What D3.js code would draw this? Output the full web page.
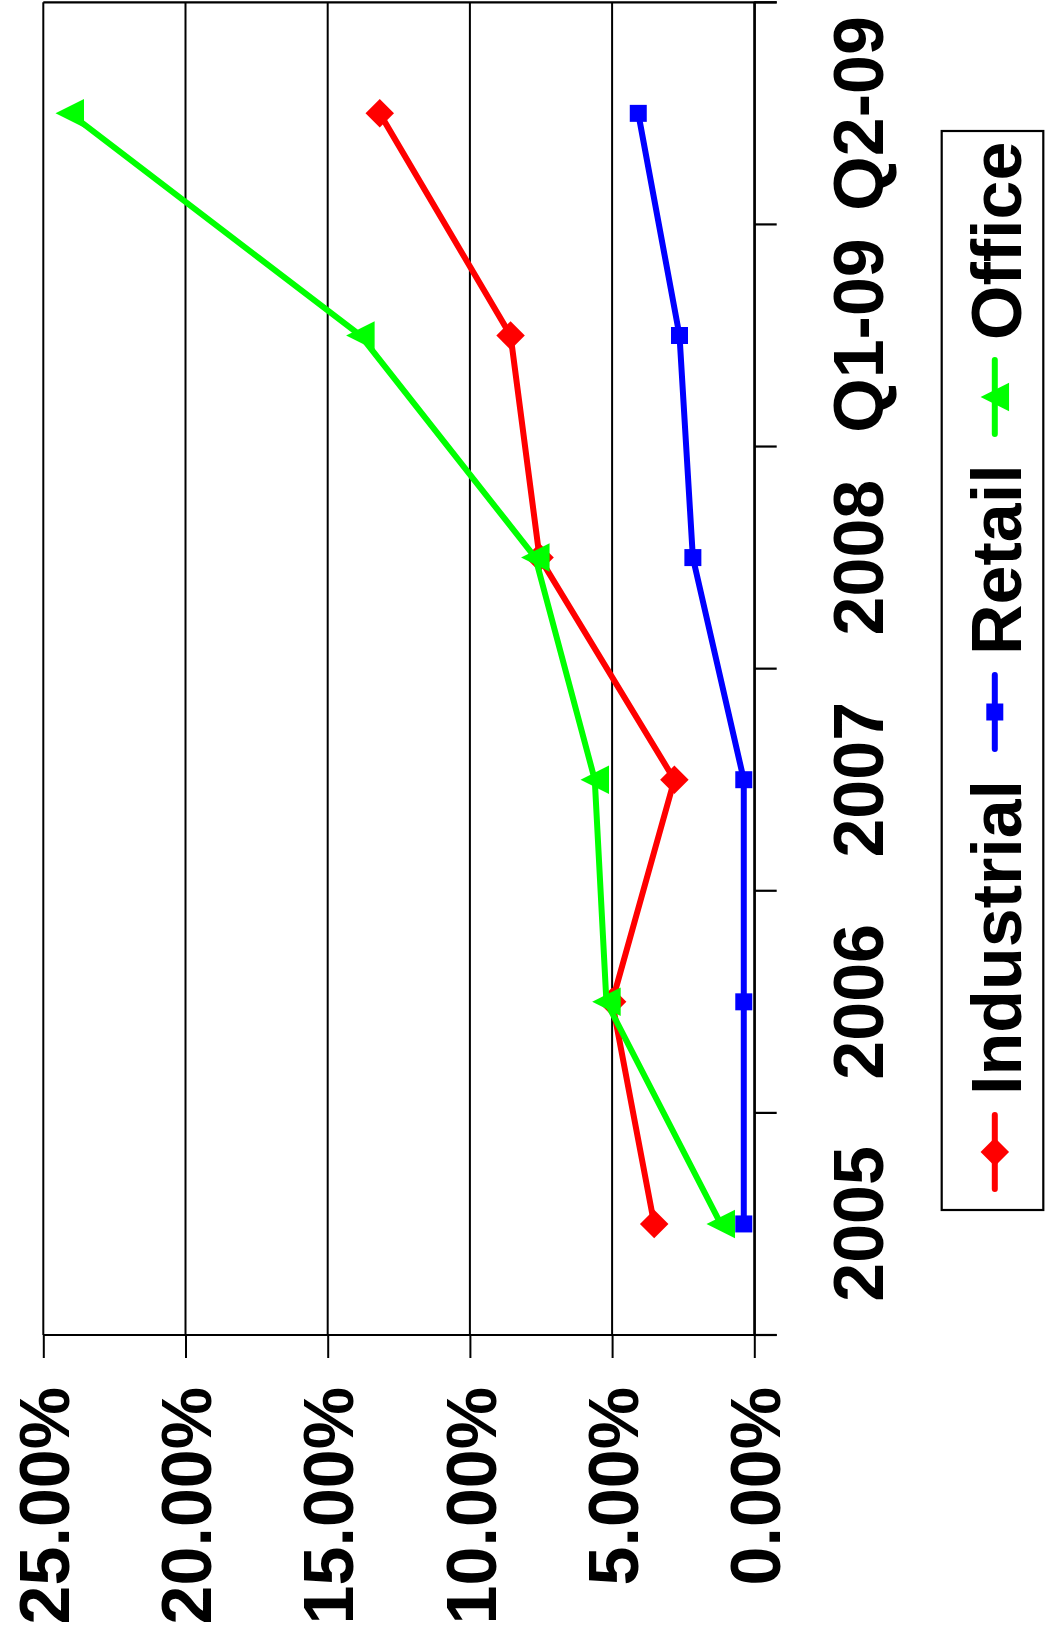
<!DOCTYPE html>
<html>
<head>
<meta charset="utf-8">
<script src="https://cdn.jsdelivr.net/npm/d3@7"></script>
<style>
  html, body { margin: 0; padding: 0; background: #fff; }
  svg { display: block; }
  text { font-family: "Liberation Sans", Arial, Helvetica, sans-serif; font-weight: bold; fill: #000; }
</style>
</head>
<body>
<svg id="chart" width="1046" height="1627"></svg>
<script>
// Vacancy-rate change by property type
const categories = ["2005", "2006", "2007", "2008", "Q1-09", "Q2-09"];
const industrial = [3.52, 5.0, 2.81, 7.55, 8.57, 13.17];
const retail     = [0.37, 0.37, 0.37, 2.16, 2.63, 4.08];
const office     = [1.18, 5.2, 5.61, 7.7, 13.85, 24.07];
const valueTicks = [0, 5, 10, 15, 20, 25];
const seriesNames = ["Industrial", "Retail", "Office"];

const W = 1046, H = 1627;
const svg = d3.select("#chart");

// The whole chart is laid out landscape and turned a quarter turn counter-clockwise.
const g = svg.append("g").attr("transform", `translate(0,${H}) rotate(-90)`);

const plot = { left: 292, right: 1624.7, top: 43.3, bottom: 754.3 };
const FONT = 70;

const x = d3.scaleBand().domain(categories).range([plot.left, plot.right]);
const y = d3.scaleLinear().domain([0, 25]).range([plot.bottom, plot.top]);

// Gridlines
g.append("g").selectAll("line").data(valueTicks).join("line")
  .attr("x1", plot.left).attr("x2", plot.right)
  .attr("y1", d => y(d)).attr("y2", d => y(d))
  .attr("stroke", "#000").attr("stroke-width", 2);

// Value axis
const yAxis = d3.axisLeft(y).tickValues(valueTicks).tickSize(23).tickPadding(29)
  .tickFormat(d => d.toFixed(2) + "%");
const ya = g.append("g").attr("transform", `translate(${plot.left},0)`).call(yAxis);
ya.select(".domain").remove();
ya.selectAll(".tick line").attr("stroke", "#000").attr("stroke-width", 2);
ya.selectAll(".tick text").attr("font-size", FONT).attr("dy", "0.36em")
  .style("font-family", '"Liberation Sans", Arial, sans-serif').style("font-weight", "bold");

// Plot frame lines (extending past the category axis like Excel's outer ticks)
g.append("line").attr("x1", plot.left).attr("x2", plot.left)
  .attr("y1", plot.top).attr("y2", plot.bottom + 22.4)
  .attr("stroke", "#000").attr("stroke-width", 2.2);
g.append("line").attr("x1", plot.right).attr("x2", plot.right)
  .attr("y1", plot.top).attr("y2", plot.bottom + 22.4)
  .attr("stroke", "#000").attr("stroke-width", 2.2);

// Category axis
const xAxis = d3.axisBottom(x).tickSize(0).tickPadding(78.7);
const xa = g.append("g").attr("transform", `translate(0,${plot.bottom})`).call(xAxis);
xa.select(".domain").attr("stroke", "#000").attr("stroke-width", 2.2);
xa.selectAll(".tick text").attr("font-size", FONT)
  .style("font-family", '"Liberation Sans", Arial, sans-serif').style("font-weight", "bold");
// Category boundary ticks
const bounds = categories.map(c => x(c)).concat([plot.right]);
g.append("g").selectAll("line").data(bounds).join("line")
  .attr("x1", d => d).attr("x2", d => d)
  .attr("y1", plot.bottom).attr("y2", plot.bottom + 22.4)
  .attr("stroke", "#000").attr("stroke-width", 2.2);

// Marker shapes
const diamond = s => `M0,${-s / 2}L${s / 2},0L0,${s / 2}L${-s / 2},0Z`;
const square = s => `M${-s / 2},${-s / 2}h${s}v${s}h${-s}Z`;
const triangle = s => `M0,${-s / 2}L${s / 2},${s / 2}L${-s / 2},${s / 2}Z`;

const series = [
  { name: seriesNames[0], values: industrial, color: "#ff0000", shape: diamond(28.5) },
  { name: seriesNames[1], values: retail, color: "#0000ff", shape: square(17) },
  { name: seriesNames[2], values: office, color: "#00ff00", shape: triangle(28.5) }
];

const line = d3.line()
  .x((d, i) => x(categories[i]) + x.bandwidth() / 2)
  .y(d => y(d));

series.forEach(s => {
  const sg = g.append("g");
  sg.append("path").attr("d", line(s.values))
    .attr("fill", "none").attr("stroke", s.color).attr("stroke-width", 6)
    .attr("stroke-linejoin", "round");
  sg.selectAll("path.m").data(s.values).join("path").attr("class", "m")
    .attr("d", s.shape)
    .attr("transform", (d, i) => `translate(${x(categories[i]) + x.bandwidth() / 2},${y(d)})`)
    .attr("fill", s.color);
});

// Legend
const legend = g.append("g");
legend.append("rect").attr("x", 417).attr("y", 941.7)
  .attr("width", 1496 - 417).attr("height", 1043.3 - 941.7)
  .attr("fill", "#fff").attr("stroke", "#000").attr("stroke-width", 2.2);
const legendX = [475, 915, 1230];
const legendY = 994.8;
series.forEach((s, i) => {
  const lg = legend.append("g").attr("transform", `translate(${legendX[i]},${legendY})`);
  lg.append("line").attr("x1", -37).attr("x2", 37).attr("y1", 0).attr("y2", 0)
    .attr("stroke", s.color).attr("stroke-width", 6).attr("stroke-linecap", "round");
  lg.append("path").attr("d", s.shape).attr("fill", s.color);
  lg.append("text").attr("x", 57).attr("y", 0).attr("dy", "0.38em")
    .attr("font-size", FONT).text(s.name);
});
</script>
</body>
</html>
